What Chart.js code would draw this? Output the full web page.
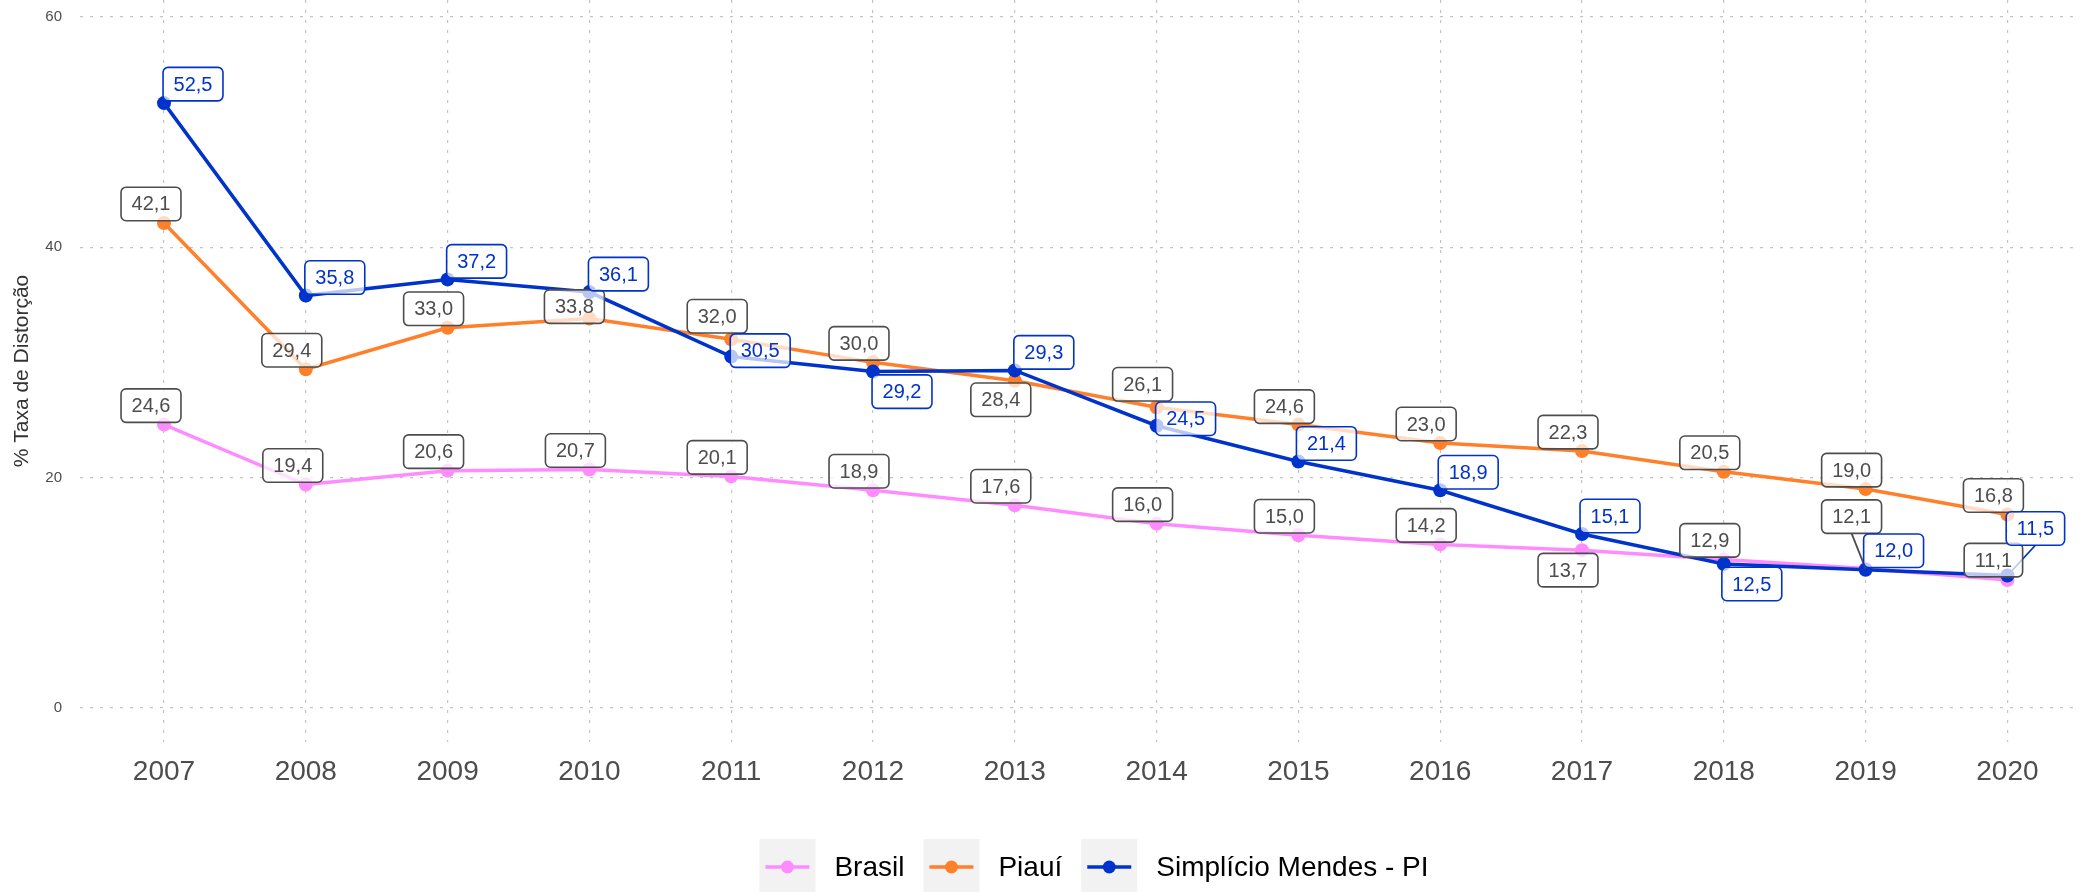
<!DOCTYPE html>
<html lang="pt-BR">
<head>
<meta charset="utf-8">
<title>Taxa de Distorção Idade-Série</title>
<script src="https://cdn.jsdelivr.net/npm/chart.js@4.4.1/dist/chart.umd.min.js"></script>
<style>
  html, body { margin: 0; padding: 0; background: #ffffff; }
  #wrap { width: 2080px; height: 892px; }
  canvas { display: block; }
</style>
</head>
<body>
<div id="wrap"><canvas id="grafico" width="2080" height="892"></canvas></div>
<script>
// ---- dados ----
const anos = [2007, 2008, 2009, 2010, 2011, 2012, 2013, 2014, 2015, 2016, 2017, 2018, 2019, 2020];
const brasil = [24.6, 19.4, 20.6, 20.7, 20.1, 18.9, 17.6, 16.0, 15.0, 14.2, 13.7, 12.9, 12.1, 11.1];
const piaui = [42.1, 29.4, 33.0, 33.8, 32.0, 30.0, 28.4, 26.1, 24.6, 23.0, 22.3, 20.5, 19.0, 16.8];
const simplicio = [52.5, 35.8, 37.2, 36.1, 30.5, 29.2, 29.3, 24.5, 21.4, 18.9, 15.1, 12.5, 12.0, 11.5];
const series = ['Brasil', 'Piauí', 'Simplício Mendes - PI'];
const yTicks = [0, 20, 40, 60];

// ---- deslocamento dos rótulos em relação ao ponto (px) ----
const desvioBrasil = [[-13,-19],[-13,-19],[-14,-19],[-14,-19],[-14,-19],[-14,-19],[-14,-19],
                      [-14,-19],[-14,-19],[-14,-19],[-14,20],[-14,-19],[-14,-52],[-14,-20]];
const desvioPiaui = [[-13,-19],[-14,-19],[-14,-19],[-15,-12],[-14,-23],[-14,-19],[-14,19],
                     [-14,-23],[-14,-18],[-14,-19],[-14,-19],[-14,-19],[-14,-19],[-14,-19]];
const desvioSimplicio = [[29,-19],[29,-18],[29,-18],[29,-18],[29,-6],[29,20],[29,-18],
                         [29,-7],[28,-18],[28,-18],[28,-18],[28,20],[28,-19],[28,-47]];

const FONTE = '"Liberation Sans", Arial, Helvetica, sans-serif';
Chart.defaults.font.family = FONTE;

const cores = ['#FF8CFF', '#FF7F2A', '#0033CC'];
const estiloRotulo = [
  { texto: '#4D4D4D', borda: '#4D4D4D', camada: 0 },
  { texto: '#4D4D4D', borda: '#4D4D4D', camada: 0 },
  { texto: '#0033CC', borda: '#0033CC', camada: 1 }
];
const desvios = [desvioBrasil, desvioPiaui, desvioSimplicio];

const fmt = v => v.toFixed(1).replace('.', ',');

// rótulos com caixa arredondada, ligados ao ponto quando afastados
const rotulos = {
  id: 'rotulos',
  afterDatasetsDraw(chart) {
    const ctx = chart.ctx;
    const caixas = [];
    chart.data.datasets.forEach((ds, di) => {
      const meta = chart.getDatasetMeta(di);
      meta.data.forEach((pt, i) => {
        const [dx, dy] = desvios[di][i];
        caixas.push({ x: pt.x + dx, y: pt.y + dy, px: pt.x, py: pt.y,
                      txt: fmt(ds.data[i].y), st: estiloRotulo[di] });
      });
    });
    ctx.save();
    ctx.font = '20px ' + FONTE;
    const h = 33.5;
    // segmentos
    caixas.forEach(c => {
      if (Math.abs(c.y - c.py) > 35) {
        ctx.beginPath();
        ctx.strokeStyle = c.st.borda;
        ctx.lineWidth = 1.8;
        ctx.moveTo(c.x, c.y + h / 2);
        ctx.lineTo(c.px, c.py);
        ctx.stroke();
      }
    });
    [0, 1].forEach(camada => {
      caixas.filter(c => c.st.camada === camada).forEach(c => {
        const w = ctx.measureText(c.txt).width + 21;
        ctx.beginPath();
        ctx.roundRect(c.x - w / 2, c.y - h / 2, w, h, 5);
        ctx.fillStyle = 'rgba(255,255,255,0.72)';
        ctx.fill();
        ctx.lineWidth = 1.6;
        ctx.strokeStyle = c.st.borda;
        ctx.stroke();
        ctx.fillStyle = c.st.texto;
        ctx.textAlign = 'center';
        ctx.textBaseline = 'middle';
        ctx.fillText(c.txt, c.x, c.y + 1);
      });
    });
    ctx.restore();
  }
};

// legenda inferior com chaves de fundo cinza
const legenda = {
  id: 'legenda',
  afterDraw(chart) {
    const ctx = chart.ctx;
    ctx.save();
    ctx.font = '28px ' + FONTE;
    const chave = 56, esp = 19, topo = 839, cy = 867, centro = 1094;
    const itens = chart.data.datasets.map(ds => ({
      rotulo: ds.label, cor: ds.borderColor, w: ctx.measureText(ds.label).width
    }));
    const total = itens.reduce((s, it) => s + chave + esp + it.w, 0) + esp * (itens.length - 1);
    let x = centro - total / 2;
    itens.forEach(it => {
      ctx.fillStyle = '#F2F2F2';
      ctx.fillRect(x, topo, chave, chave);
      ctx.beginPath();
      ctx.strokeStyle = it.cor;
      ctx.lineWidth = 3.5;
      ctx.moveTo(x + 6, cy);
      ctx.lineTo(x + chave - 6, cy);
      ctx.stroke();
      ctx.beginPath();
      ctx.fillStyle = it.cor;
      ctx.arc(x + chave / 2, cy, 6.5, 0, Math.PI * 2);
      ctx.fill();
      ctx.fillStyle = '#000000';
      ctx.textAlign = 'left';
      ctx.textBaseline = 'middle';
      ctx.fillText(it.rotulo, x + chave + esp, cy + 1.5);
      x += chave + esp + it.w + esp;
    });
    ctx.restore();
  }
};

const gradeComum = { color: '#C4C4C4', lineWidth: 1.2, drawTicks: false };
const bordaComum = { display: false, dash: [3, 7] };

const conjuntos = [brasil, piaui, simplicio].map((vals, k) => ({
  label: series[k],
  data: anos.map((a, i) => ({ x: a, y: vals[i] })),
  borderColor: cores[k],
  backgroundColor: cores[k],
  pointBackgroundColor: cores[k],
  order: 2 - k
}));

new Chart(document.getElementById('grafico'), {
  type: 'line',
  data: { datasets: conjuntos },
  options: {
    responsive: false,
    animation: false,
    devicePixelRatio: 1,
    layout: { padding: 0, autoPadding: false },
    plugins: { legend: { display: false }, tooltip: { enabled: false } },
    elements: {
      line: { borderWidth: 3.5, tension: 0 },
      point: { radius: 7, hoverRadius: 7, borderWidth: 0 }
    },
    scales: {
      x: {
        type: 'linear',
        min: 2006.4076,
        max: 2020.512,
        afterBuildTicks: s => { s.ticks = anos.map(v => ({ value: v })); },
        afterFit: s => { s.height = 150; s.paddingLeft = 0; s.paddingRight = 0; },
        grid: gradeComum,
        border: bordaComum,
        ticks: {
          padding: 13, autoSkip: false, maxRotation: 0,
          font: { size: 28 }, color: '#4D4D4D',
          callback: v => String(v)
        }
      },
      y: {
        min: -2.95,
        max: 61.45,
        afterBuildTicks: s => { s.ticks = yTicks.map(v => ({ value: v })); },
        afterFit: s => { s.width = 80; s.paddingTop = 0; s.paddingBottom = 0; },
        grid: gradeComum,
        border: bordaComum,
        ticks: { padding: 18, font: { size: 15 }, color: '#4D4D4D', callback: v => String(v) },
        title: {
          display: true, text: '% Taxa de Distorção',
          font: { size: 21 }, color: '#333333', padding: { top: 10, bottom: 0 }
        }
      }
    }
  },
  plugins: [rotulos, legenda]
});
</script>
</body>
</html>
